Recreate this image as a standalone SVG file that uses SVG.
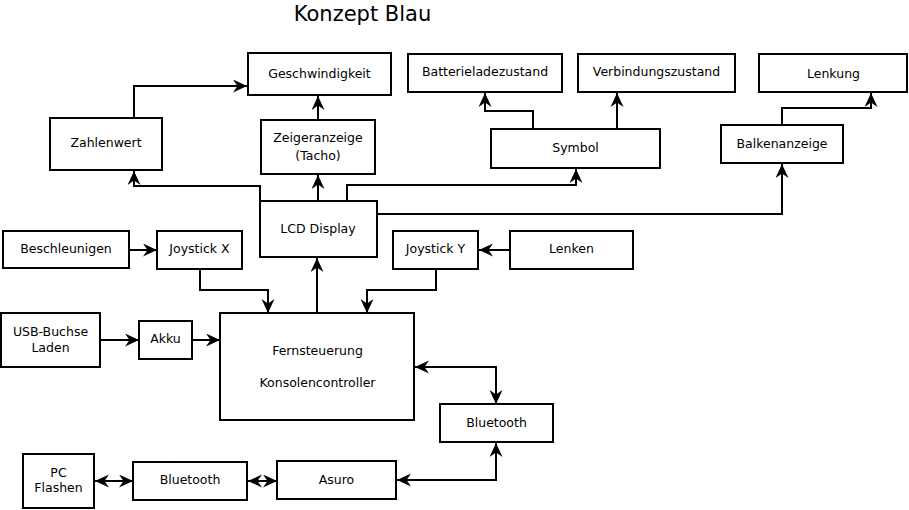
<svg xmlns="http://www.w3.org/2000/svg" width="909" height="510" viewBox="0 0 909 510">
<style>
.box{fill:#fff;stroke:#000;stroke-width:2}
.lbl{font-family:"DejaVu Sans",sans-serif;font-size:12.5px;fill:#000;text-anchor:middle}
.title{font-family:"DejaVu Sans",sans-serif;font-size:21px;fill:#000;text-anchor:middle}
.con{fill:none;stroke:#000;stroke-width:2}
.a{marker-end:url(#ah)}
.b{marker-start:url(#ah);marker-end:url(#ah)}
</style>
<defs>
<marker id="ah" markerUnits="userSpaceOnUse" markerWidth="16" markerHeight="16" refX="14" refY="6.5" orient="auto-start-reverse" viewBox="0 0 16 16">
<path d="M0,0 L14,6.5 L0,13 L4.5,6.5 Z" fill="#000"/>
</marker>
</defs>
<rect width="909" height="510" fill="#fff"/>
<text class="title" x="362.5" y="21">Konzept Blau</text>
<g id="connectors">
<path class="con a" d="M134,118 V86 H247"/>
<path class="con a" d="M318,120 V96"/>
<path class="con a" d="M318,201 V175"/>
<path class="con a" d="M260,201 V186 H134 V171"/>
<path class="con a" d="M347,201 V185 H576 V169"/>
<path class="con a" d="M377,214 H782 V164"/>
<path class="con a" d="M533,129 V111 H485 V93"/>
<path class="con a" d="M617,129 V93"/>
<path class="con a" d="M782,125 V108 H871 V93"/>
<path class="con a" d="M129,250 H157"/>
<path class="con a" d="M510,250 H479"/>
<path class="con a" d="M200,269 V290 H268 V313"/>
<path class="con a" d="M436,269 V290 H367 V313"/>
<path class="con a" d="M317,313 V258"/>
<path class="con a" d="M100,340 H139"/>
<path class="con a" d="M192,340 H220"/>
<path class="con b" d="M415,367 H496 V404"/>
<path class="con b" d="M397,480 H496 V443"/>
<path class="con b" d="M95,481 H133"/>
<path class="con b" d="M248,481 H277"/>
</g>
<g id="geschwindigkeit"><rect class="box" x="248" y="53" width="143" height="42"/><text class="lbl" x="319.5" y="78">Geschwindigkeit</text></g>
<g id="zahlenwert"><rect class="box" x="50" y="118" width="112" height="52"/><text class="lbl" x="106" y="147">Zahlenwert</text></g>
<g id="zeigeranzeige"><rect class="box" x="261" y="120" width="114" height="54"/><text class="lbl" x="318" y="142">Zeigeranzeige</text><text class="lbl" x="318" y="160">(Tacho)</text></g>
<g id="batterieladezustand"><rect class="box" x="408" y="54" width="154" height="38"/><text class="lbl" x="485" y="76">Batterieladezustand</text></g>
<g id="verbindungszustand"><rect class="box" x="578" y="54" width="157" height="38"/><text class="lbl" x="656.5" y="76">Verbindungszustand</text></g>
<g id="lenkung"><rect class="box" x="759" y="54" width="148" height="38"/><text class="lbl" x="833.5" y="78">Lenkung</text></g>
<g id="symbol"><rect class="box" x="491" y="129" width="169" height="39"/><text class="lbl" x="575.5" y="152">Symbol</text></g>
<g id="balkenanzeige"><rect class="box" x="721" y="125" width="122" height="38"/><text class="lbl" x="782" y="148">Balkenanzeige</text></g>
<g id="lcd-display"><rect class="box" x="260" y="201" width="117" height="56"/><text class="lbl" x="318" y="233">LCD Display</text></g>
<g id="beschleunigen"><rect class="box" x="3" y="231" width="126" height="37"/><text class="lbl" x="66" y="253">Beschleunigen</text></g>
<g id="joystick-x"><rect class="box" x="157" y="231" width="85" height="38"/><text class="lbl" x="199.5" y="253">Joystick X</text></g>
<g id="joystick-y"><rect class="box" x="393" y="231" width="85" height="38"/><text class="lbl" x="435.5" y="253">Joystick Y</text></g>
<g id="lenken"><rect class="box" x="510" y="231" width="123" height="38"/><text class="lbl" x="571.5" y="253">Lenken</text></g>
<g id="usb-buchse"><rect class="box" x="1" y="313" width="99" height="54"/><text class="lbl" x="50.5" y="336">USB-Buchse</text><text class="lbl" x="50.5" y="352">Laden</text></g>
<g id="akku"><rect class="box" x="139" y="321" width="53" height="38"/><text class="lbl" x="165.5" y="343">Akku</text></g>
<g id="fernsteuerung"><rect class="box" x="220" y="313" width="194" height="107"/><text class="lbl" x="317.5" y="355">Fernsteuerung</text><text class="lbl" x="317.5" y="387">Konsolencontroller</text></g>
<g id="bluetooth-1"><rect class="box" x="440" y="404" width="113" height="38"/><text class="lbl" x="496.5" y="427">Bluetooth</text></g>
<g id="pc-flashen"><rect class="box" x="23" y="454" width="71" height="54"/><text class="lbl" x="58.5" y="477">PC</text><text class="lbl" x="58.5" y="492">Flashen</text></g>
<g id="bluetooth-2"><rect class="box" x="133" y="462" width="114" height="38"/><text class="lbl" x="190" y="484">Bluetooth</text></g>
<g id="asuro"><rect class="box" x="277" y="461" width="119" height="38"/><text class="lbl" x="336.5" y="484">Asuro</text></g>
</svg>
